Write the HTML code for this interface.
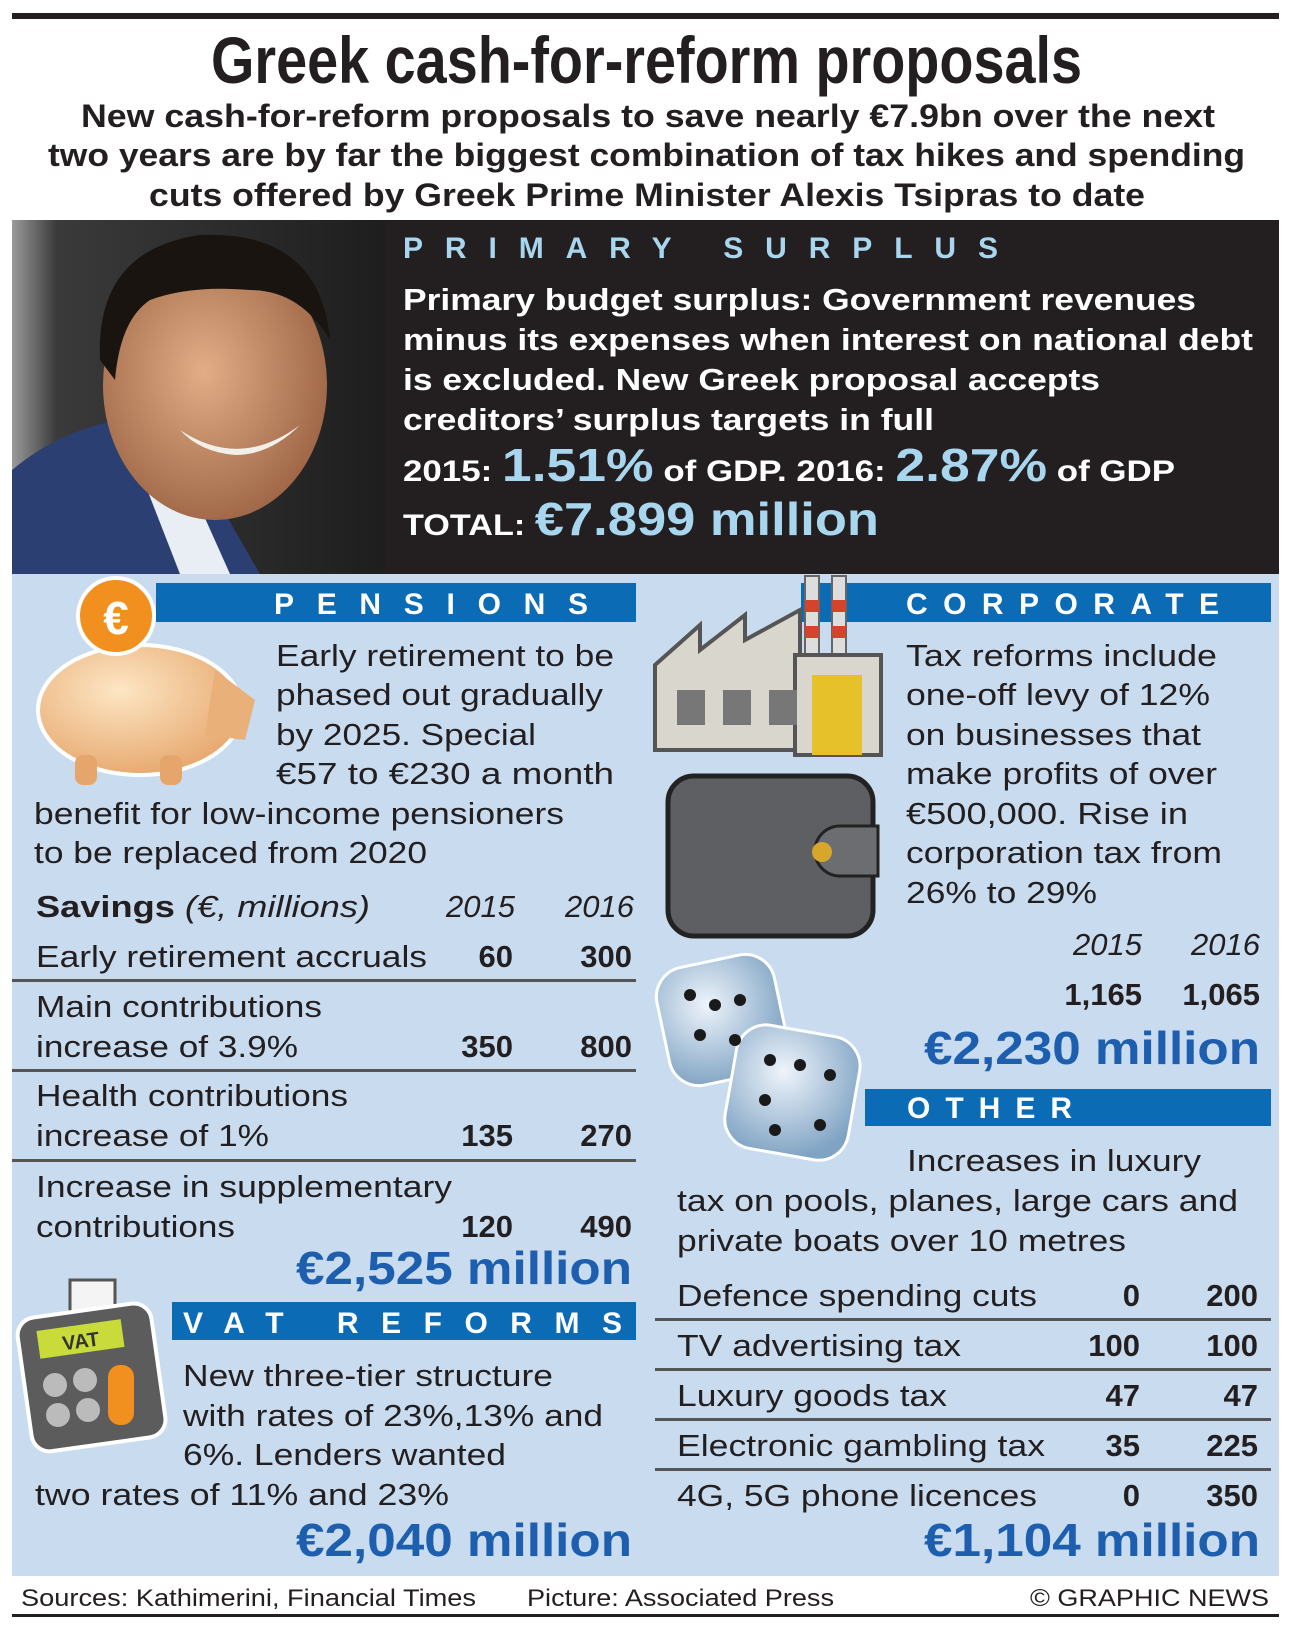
<!DOCTYPE html>
<html><head><meta charset="utf-8">
<style>
html,body{margin:0;padding:0;background:#fff;}
svg{display:block;font-family:"Liberation Sans",Arial,sans-serif;}
.b{font-weight:bold;}
.body{font-size:31px;fill:#231f20;}
.blue{fill:#1d5fae;font-weight:bold;font-size:46px;}
.hdr{fill:#fff;font-weight:bold;font-size:30px;}
</style></head>
<body>
<svg id="info" width="1289" height="1626" viewBox="0 0 1289 1626" xmlns="http://www.w3.org/2000/svg">
<defs>
 <linearGradient id="photoG" x1="0" x2="1" y1="0" y2="0">
  <stop offset="0" stop-color="#9a9a9a"/><stop offset="0.12" stop-color="#3a3a3a"/><stop offset="1" stop-color="#1e1e1e"/>
 </linearGradient>
 <radialGradient id="skin" cx="0.45" cy="0.45" r="0.6"><stop offset="0" stop-color="#e2ad87"/><stop offset="1" stop-color="#9c6444"/></radialGradient>
 <radialGradient id="pigG" cx="0.4" cy="0.35" r="0.7"><stop offset="0" stop-color="#fde6c4"/><stop offset="1" stop-color="#e6a66b"/></radialGradient>
 <radialGradient id="diceG" cx="0.4" cy="0.35" r="0.7"><stop offset="0" stop-color="#eef4fb"/><stop offset="1" stop-color="#7fa3c3"/></radialGradient>
</defs>

<rect x="12" y="13" width="1267" height="6" fill="#231f20"/>

<text x="211" y="83" font-size="66" class="b" fill="#231f20" textLength="871" lengthAdjust="spacingAndGlyphs">Greek cash-for-reform proposals</text>
<g class="b" font-size="32" fill="#231f20">
 <text x="81" y="127" textLength="1134" lengthAdjust="spacingAndGlyphs">New cash-for-reform proposals to save nearly €7.9bn over the next</text>
 <text x="48" y="166" textLength="1197" lengthAdjust="spacingAndGlyphs">two years are by far the biggest combination of tax hikes and spending</text>
 <text x="149" y="206" textLength="996" lengthAdjust="spacingAndGlyphs">cuts offered by Greek Prime Minister Alexis Tsipras to date</text>
</g>

<rect x="12" y="220" width="1267" height="354" fill="#231f20"/>
<g>
 <rect x="12" y="220" width="373" height="354" fill="url(#photoG)"/>
 <path d="M12 574 L12 470 Q60 430 120 420 L200 470 L260 574 Z" fill="#2c3f72"/>
 <path d="M120 420 L170 440 L230 574 L180 574 Z" fill="#e8eef4"/>
 <ellipse cx="215" cy="385" rx="112" ry="135" fill="url(#skin)"/>
 <path d="M100 360 Q95 250 200 235 Q320 230 330 340 Q300 290 250 290 Q190 285 150 300 Q120 320 115 380 Z" fill="#1a1410"/>
 <path d="M180 430 Q240 470 300 425 Q270 455 235 455 Q200 452 180 430 Z" fill="#f2efe8"/>
</g>

<text x="403" y="258" font-size="30" class="b" fill="#a9d6ef" textLength="595" lengthAdjust="spacing">PRIMARY SURPLUS</text>
<g class="b" font-size="31" fill="#fff">
 <text x="403" y="310" textLength="793" lengthAdjust="spacingAndGlyphs">Primary budget surplus: Government revenues</text>
 <text x="403" y="350" textLength="850" lengthAdjust="spacingAndGlyphs">minus its expenses when interest on national debt</text>
 <text x="403" y="390" textLength="697" lengthAdjust="spacingAndGlyphs">is excluded. New Greek proposal accepts</text>
 <text x="403" y="430" textLength="531" lengthAdjust="spacingAndGlyphs">creditors’ surplus targets in full</text>
</g>
<text x="403" y="481" class="b" fill="#fff" font-size="30" textLength="772" lengthAdjust="spacingAndGlyphs">2015: <tspan fill="#a9d6ef" font-size="46">1.51%</tspan> of GDP. 2016: <tspan fill="#a9d6ef" font-size="46">2.87%</tspan> of GDP</text>
<text x="403" y="535" class="b" fill="#fff" font-size="30" textLength="476" lengthAdjust="spacingAndGlyphs">TOTAL: <tspan fill="#a9d6ef" font-size="46">€7.899 million</tspan></text>

<rect x="12" y="574" width="1267" height="1002" fill="#c9dcef"/>

<rect x="156" y="583" width="480" height="39" fill="#0b6bb5"/>
<text x="274" y="614" class="hdr" textLength="314" lengthAdjust="spacing">PENSIONS</text>
<rect x="801" y="583" width="470" height="39" fill="#0b6bb5"/>
<text x="906" y="614" class="hdr" textLength="313" lengthAdjust="spacing">CORPORATE</text>
<rect x="172" y="1302" width="464" height="38" fill="#0b6bb5"/>
<text x="183" y="1333" class="hdr" textLength="439" lengthAdjust="spacing">VAT REFORMS</text>
<rect x="865" y="1089" width="406" height="37" fill="#0b6bb5"/>
<text x="907" y="1118" class="hdr" textLength="165" lengthAdjust="spacing">OTHER</text>

<g>
 <ellipse cx="140" cy="710" rx="102" ry="65" fill="url(#pigG)" stroke="#fff" stroke-width="4"/>
 <path d="M215 670 L255 700 L245 740 L205 735 Z" fill="#e9b07a"/>
 <rect x="75" y="755" width="22" height="30" rx="8" fill="#e6a66b"/>
 <rect x="160" y="755" width="22" height="30" rx="8" fill="#e6a66b"/>
 <circle cx="116" cy="616" r="38" fill="#f1901e" stroke="#fff" stroke-width="4"/>
 <text x="116" y="634" font-size="46" class="b" fill="#fff" text-anchor="middle">€</text>
</g>
<g>
 <path d="M655 665 L700 625 L700 650 L745 615 L745 640 L800 610 L800 750 L655 750 Z" fill="#d9d6cd" stroke="#555" stroke-width="4"/>
 <rect x="805" y="576" width="14" height="80" fill="#ddd" stroke="#666" stroke-width="2"/>
 <rect x="832" y="576" width="14" height="80" fill="#ddd" stroke="#666" stroke-width="2"/>
 <rect x="805" y="600" width="14" height="12" fill="#d4432c"/><rect x="832" y="600" width="14" height="12" fill="#d4432c"/>
 <rect x="805" y="626" width="14" height="12" fill="#d4432c"/><rect x="832" y="626" width="14" height="12" fill="#d4432c"/>
 <rect x="795" y="655" width="86" height="100" fill="#d9d6cd" stroke="#555" stroke-width="4"/>
 <rect x="812" y="675" width="50" height="80" fill="#e7c12a"/>
 <rect x="677" y="690" width="28" height="35" fill="#777"/><rect x="723" y="690" width="28" height="35" fill="#777"/><rect x="769" y="690" width="28" height="35" fill="#777"/>
</g>
<g>
 <rect x="668" y="776" width="205" height="160" rx="26" fill="#5d5f63" stroke="#222" stroke-width="5"/>
 <path d="M840 826 L878 826 L878 876 L840 876 A25 25 0 0 1 840 826 Z" fill="#6b6d71" stroke="#222" stroke-width="3"/>
 <circle cx="822" cy="852" r="10" fill="#d7a72b"/>
</g>
<g>
 <rect x="662" y="960" width="120" height="120" rx="30" fill="url(#diceG)" stroke="#fff" stroke-width="3" transform="rotate(-12 722 1020)"/>
 <rect x="730" y="1030" width="125" height="125" rx="30" fill="url(#diceG)" stroke="#fff" stroke-width="3" transform="rotate(10 792 1092)"/>
 <g fill="#1a1a1a">
  <circle cx="690" cy="995" r="6"/><circle cx="715" cy="1005" r="6"/><circle cx="740" cy="1000" r="6"/><circle cx="700" cy="1035" r="6"/><circle cx="735" cy="1040" r="6"/>
  <circle cx="770" cy="1060" r="6"/><circle cx="800" cy="1065" r="6"/><circle cx="830" cy="1075" r="6"/><circle cx="765" cy="1100" r="6"/><circle cx="775" cy="1130" r="6"/><circle cx="820" cy="1125" r="6"/>
 </g>
</g>
<g>
 <rect x="70" y="1280" width="45" height="50" fill="#f4f4f4" stroke="#555" stroke-width="3"/>
 <rect x="24" y="1310" width="135" height="135" rx="18" fill="#5c5c5c" stroke="#fff" stroke-width="4" transform="rotate(-8 91 1377)"/>
 <rect x="38" y="1325" width="85" height="28" fill="#c9da3b" transform="rotate(-8 80 1339)"/>
 <text x="62" y="1348" font-size="20" class="b" fill="#333" transform="rotate(-8 80 1339)">VAT</text>
 <circle cx="55" cy="1385" r="12" fill="#bbb"/><circle cx="85" cy="1380" r="12" fill="#bbb"/>
 <circle cx="58" cy="1415" r="12" fill="#bbb"/><circle cx="88" cy="1410" r="12" fill="#bbb"/>
 <rect x="108" y="1365" width="26" height="60" rx="12" fill="#f1901e"/>
</g>

<g class="body">
 <text x="276" y="666" textLength="338" lengthAdjust="spacingAndGlyphs">Early retirement to be</text>
 <text x="276" y="705" textLength="327" lengthAdjust="spacingAndGlyphs">phased out gradually</text>
 <text x="276" y="745" textLength="260" lengthAdjust="spacingAndGlyphs">by 2025. Special</text>
 <text x="276" y="784" textLength="338" lengthAdjust="spacingAndGlyphs">€57 to €230 a month</text>
 <text x="34" y="824" textLength="530" lengthAdjust="spacingAndGlyphs">benefit for low-income pensioners</text>
 <text x="34" y="863" textLength="393" lengthAdjust="spacingAndGlyphs">to be replaced from 2020</text>
</g>
<g class="body">
 <text x="36" y="917" textLength="334" lengthAdjust="spacingAndGlyphs"><tspan class="b">Savings</tspan> <tspan font-style="italic">(€, millions)</tspan></text>
 <text x="515" y="917" text-anchor="end" font-style="italic">2015</text>
 <text x="634" y="917" text-anchor="end" font-style="italic">2016</text>
</g>
<g id="pensRows"></g>
<text x="632" y="1284" class="blue" text-anchor="end" textLength="336" lengthAdjust="spacingAndGlyphs">€2,525 million</text>

<g class="body">
 <text x="183" y="1386" textLength="370" lengthAdjust="spacingAndGlyphs">New three-tier structure</text>
 <text x="183" y="1426" textLength="420" lengthAdjust="spacingAndGlyphs">with rates of 23%,13% and</text>
 <text x="183" y="1465" textLength="323" lengthAdjust="spacingAndGlyphs">6%. Lenders wanted</text>
 <text x="35" y="1505" textLength="414" lengthAdjust="spacingAndGlyphs">two rates of 11% and 23%</text>
</g>
<text x="632" y="1556" class="blue" text-anchor="end" textLength="336" lengthAdjust="spacingAndGlyphs">€2,040 million</text>

<g class="body">
 <text x="906" y="666" textLength="311" lengthAdjust="spacingAndGlyphs">Tax reforms include</text>
 <text x="906" y="705" textLength="304" lengthAdjust="spacingAndGlyphs">one-off levy of 12%</text>
 <text x="906" y="745" textLength="295" lengthAdjust="spacingAndGlyphs">on businesses that</text>
 <text x="906" y="784" textLength="311" lengthAdjust="spacingAndGlyphs">make profits of over</text>
 <text x="906" y="824" textLength="282" lengthAdjust="spacingAndGlyphs">€500,000. Rise in</text>
 <text x="906" y="863" textLength="316" lengthAdjust="spacingAndGlyphs">corporation tax from</text>
 <text x="906" y="903" textLength="191" lengthAdjust="spacingAndGlyphs">26% to 29%</text>
</g>
<g class="body" font-style="italic">
 <text x="1142" y="955" text-anchor="end">2015</text>
 <text x="1260" y="955" text-anchor="end">2016</text>
</g>
<g class="body b">
 <text id="corp15" x="1142" y="1005" text-anchor="end"></text>
 <text id="corp16" x="1260" y="1005" text-anchor="end"></text>
</g>
<text x="1260" y="1064" class="blue" text-anchor="end" textLength="336" lengthAdjust="spacingAndGlyphs">€2,230 million</text>

<g class="body">
 <text x="907" y="1171" textLength="294" lengthAdjust="spacingAndGlyphs">Increases in luxury</text>
 <text x="677" y="1211" textLength="561" lengthAdjust="spacingAndGlyphs">tax on pools, planes, large cars and</text>
 <text x="677" y="1251" textLength="449" lengthAdjust="spacingAndGlyphs">private boats over 10 metres</text>
</g>
<g id="otherRows"></g>
<text x="1260" y="1556" class="blue" text-anchor="end" textLength="336" lengthAdjust="spacingAndGlyphs">€1,104 million</text>

<g font-size="24" fill="#231f20">
 <text x="21" y="1606" textLength="455" lengthAdjust="spacingAndGlyphs">Sources: Kathimerini, Financial Times</text>
 <text x="527" y="1606" textLength="307" lengthAdjust="spacingAndGlyphs">Picture: Associated Press</text>
 <text x="1030" y="1606" textLength="239" lengthAdjust="spacingAndGlyphs">© GRAPHIC NEWS</text>
</g>
<rect x="12" y="1614" width="1267" height="3" fill="#231f20"/>
</svg>

<script>
var pensLabels = [["Early retirement accruals"],["Main contributions","increase of 3.9%"],["Health contributions","increase of 1%"],["Increase in supplementary","contributions"]];
var pens2015 = [60, 350, 135, 120];
var pens2016 = [300, 800, 270, 490];
var corp2015 = "1,165";
var corp2016 = "1,065";
var otherLabels = ["Defence spending cuts","TV advertising tax","Luxury goods tax","Electronic gambling tax","4G, 5G phone licences"];
var other2015 = [0, 100, 47, 35, 0];
var other2016 = [200, 100, 47, 225, 350];

var pensLabelWidths = [[391],[286,262],[312,233],[416,199]];
var otherLabelWidths = [360,284,270,368,360];

var NS = "http://www.w3.org/2000/svg";
function txt(parent, x, y, s, anchor, bold, w){
  var t = document.createElementNS(NS, "text");
  t.setAttribute("x", x); t.setAttribute("y", y);
  t.setAttribute("class", "body" + (bold ? " b" : ""));
  if (anchor) t.setAttribute("text-anchor", anchor);
  if (w) { t.setAttribute("textLength", w); t.setAttribute("lengthAdjust", "spacingAndGlyphs"); }
  t.textContent = s; parent.appendChild(t); return t;
}
function rule(parent, x, y, w){
  var r = document.createElementNS(NS, "rect");
  r.setAttribute("x", x); r.setAttribute("y", y); r.setAttribute("width", w); r.setAttribute("height", 3);
  r.setAttribute("fill", "#555");
  parent.appendChild(r); return r;
}
var pg = document.getElementById("pensRows");
var pensBase = [967, 1057, 1146, 1237];
var pensRule = [979, 1069, 1159];
for (var i = 0; i < pensLabels.length; i++) {
  var lines = pensLabels[i];
  for (var j = 0; j < lines.length; j++) {
    var lt = txt(pg, 36, pensBase[i] - (lines.length - 1 - j) * 40, lines[j], null, false, pensLabelWidths[i][j]);
    
    
  }
  var a = txt(pg, 513, pensBase[i], String(pens2015[i]), "end", true);
  
  
  var b = txt(pg, 632, pensBase[i], String(pens2016[i]), "end", true);
  
  
  if (i < pensRule.length) {
    var r = rule(pg, 12, pensRule[i], 624);
    
    
  }
}
document.getElementById("corp15").textContent = corp2015;
document.getElementById("corp16").textContent = corp2016;
var og = document.getElementById("otherRows");
for (var k = 0; k < otherLabels.length; k++) {
  var y = 1306 + k * 50;
  var l = txt(og, 677, y, otherLabels[k], null, false, otherLabelWidths[k]);
  
  
  var c = txt(og, 1140, y, String(other2015[k]), "end", true);
  
  
  var d = txt(og, 1258, y, String(other2016[k]), "end", true);
  
  
  if (k < otherLabels.length - 1) {
    var rr = rule(og, 655, y + 12, 616);
    
    
  }
}
</script>
</body></html>
